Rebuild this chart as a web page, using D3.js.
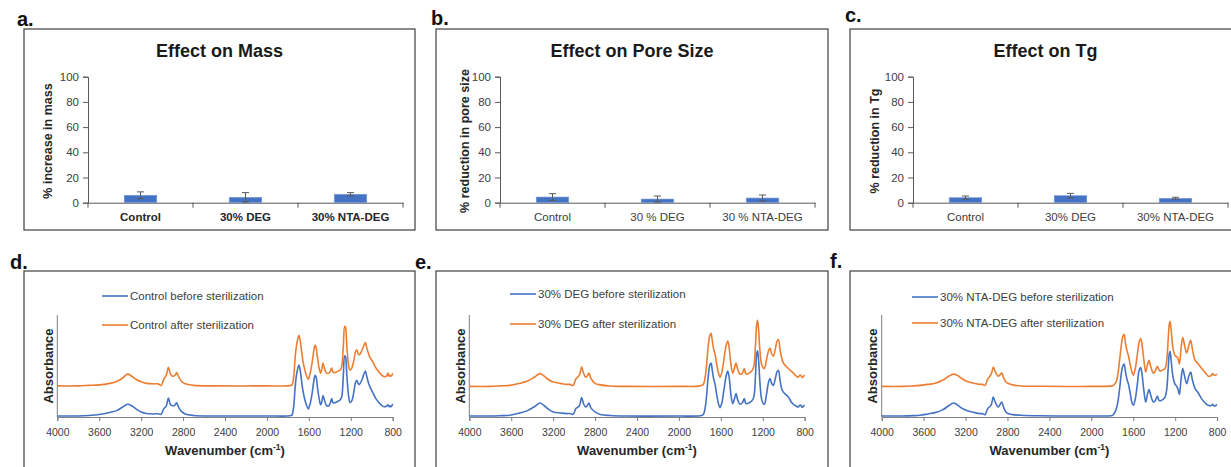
<!DOCTYPE html>
<html><head><meta charset="utf-8">
<script src="https://cdn.jsdelivr.net/npm/d3@7"></script>
<style>body{margin:0;background:#fff}svg{display:block}text{font-family:Arial,"Liberation Sans",sans-serif}</style>
</head><body><svg id="c" width="1231" height="467"></svg>
<script>
// ---------- data ----------
const panelLetters = ["a.","b.","c.","d.","e.","f."];
const barTitles = ["Effect on Mass","Effect on Pore Size","Effect on Tg"];
const barYLabels = ["% increase in mass","% reduction in pore size","% reduction in Tg"];
const massCats = ["Control","30% DEG","30% NTA-DEG"];
const poreCats = ["Control","30 % DEG","30 % NTA-DEG"];
const tgCats = ["Control","30% DEG","30% NTA-DEG"];
const massVals = [5.9, 4.3, 6.7];
const massErr = [2.7, 3.7, 1.3];
const poreVals = [4.5, 2.9, 3.7];
const poreErr = [2.7, 2.4, 2.4];
const tgVals = [4.0, 5.6, 3.5];
const tgErr = [1.3, 1.8, 0.8];
const barYTicks = [0, 20, 40, 60, 80, 100];
const wnTicks = [4000, 3600, 3200, 2800, 2400, 2000, 1600, 1200, 800];
const legendNames = [
  ["Control before sterilization", "Control after sterilization"],
  ["30% DEG before sterilization", "30% DEG after sterilization"],
  ["30% NTA-DEG before sterilization", "30% NTA-DEG after sterilization"]
];
// spectra: [wavenumber, absorbance (arb.)]
const ctrlBefore = [[4000,1],[3800,1],[3700,1.5],[3600,2.5],[3500,4.5],[3440,6],[3380,9.5],[3330,12.5],[3290,11],[3250,8],[3200,5],[3150,3.5],[3080,3],[3040,3.2],[3010,2.6],[2985,8],[2960,11],[2940,18.5],[2920,12],[2900,11],[2875,12],[2862,14],[2840,9],[2820,6],[2780,3],[2700,1.5],[2500,1],[2000,1],[1800,1],[1770,1.5],[1760,2],[1745,10],[1730,30],[1715,43],[1695,51],[1680,44],[1670,36],[1655,25],[1630,14],[1605,8],[1600,9],[1585,14],[1569,23],[1553,35],[1540,41],[1530,39],[1519,30],[1500,17],[1487,12],[1476,15],[1465,21],[1452,17],[1430,11],[1410,11],[1395,14],[1382,18],[1370,14],[1355,14],[1330,15],[1300,17],[1286,20],[1271,41],[1258,60],[1250,59],[1239,43],[1220,20],[1207,14],[1190,16],[1170,25],[1155,34],[1143,36],[1130,33],[1118,32],[1095,36],[1075,42],[1060,45],[1048,40],[1030,33],[1015,29],[990,24],[960,18],[930,14],[900,11],[880,10],[860,10.5],[845,12],[835,10],[825,11],[815,10],[800,13]];
const ctrlAfter = [[4000,30.5],[3800,30.5],[3700,31],[3600,31.5],[3500,33],[3440,34.5],[3380,38],[3330,42],[3290,40],[3250,37],[3200,34.5],[3150,33],[3080,32.5],[3040,32.5],[3010,31],[2985,37],[2960,41],[2940,48.7],[2920,42],[2900,40],[2875,41],[2862,43.5],[2840,39],[2820,35.5],[2780,32.5],[2700,31],[2500,30.5],[2000,30.5],[1800,30.5],[1770,31],[1760,31.5],[1745,39],[1730,59],[1715,72],[1695,80],[1680,73],[1670,65],[1655,54],[1630,43],[1605,37],[1600,38],[1585,44],[1569,53],[1553,65],[1540,70.5],[1530,68],[1519,59],[1500,47],[1487,43],[1476,47],[1465,53],[1452,48],[1430,43],[1410,43],[1395,45],[1382,48],[1370,44],[1355,43.5],[1330,44.5],[1300,46],[1286,50],[1271,70],[1258,89],[1250,88],[1239,72],[1220,50],[1207,46],[1190,48],[1170,56],[1155,64],[1143,66],[1130,62],[1118,61],[1095,65],[1075,70],[1060,73],[1048,68],[1030,62],[1015,58],[990,54],[960,48],[930,44],[900,40.5],[880,39.5],[860,40],[845,43],[835,40],[825,41],[815,40],[800,43]];
const degBefore = [[4000,1],[3800,1],[3700,1.3],[3612,1.7],[3516,4],[3450,6],[3380,10],[3326,13.7],[3290,11.5],[3250,8],[3198,5],[3130,4],[3071,3.3],[3040,3.4],[3008,2.6],[2985,8],[2950,11],[2928,19],[2910,13],[2890,9.8],[2870,12],[2858,13.7],[2840,9],[2801,5],[2750,2.5],[2657,1.5],[2500,1],[2000,1],[1800,1.2],[1767,2.5],[1750,9],[1735,22],[1720,40],[1705,51],[1694,53],[1682,46],[1668,37],[1656,32.7],[1640,22],[1620,12],[1608,9.2],[1590,14],[1570,27],[1550,40],[1535,45],[1522,40],[1505,23],[1487,13],[1470,18],[1455,23],[1440,17],[1417,12.5],[1395,14],[1376,18],[1365,14],[1353,13],[1330,14],[1305,15.7],[1285,20],[1270,40],[1258,62],[1250,65],[1240,56],[1228,35],[1212,18],[1195,13],[1185,12.5],[1165,22],[1145,34],[1131,37.6],[1115,33],[1099,31],[1080,38],[1065,44],[1051,45.8],[1035,36],[1020,28],[1004,24.5],[980,22],[956,19.6],[930,15],[908,12.5],[880,10.5],[861,9.8],[848,11.5],[838,11.5],[828,9.8],[819,9.8],[810,11],[800,11.5]];
const degAfter = [[4000,30],[3800,30],[3700,30.5],[3612,31],[3516,33],[3450,35],[3380,39],[3326,42.5],[3290,40.5],[3250,37],[3198,34.3],[3130,33],[3071,32],[3040,32],[3008,31],[2985,37],[2950,41],[2928,49],[2910,43],[2890,39],[2870,41],[2858,43],[2840,38],[2801,33],[2750,31.5],[2657,30.4],[2500,30],[2000,30],[1800,30.5],[1767,32],[1750,39],[1735,52],[1720,70],[1705,80],[1694,82],[1682,75],[1668,66],[1656,62],[1640,52],[1620,42],[1608,39],[1590,44],[1570,57],[1550,70],[1535,74.5],[1522,69],[1505,53],[1487,43],[1470,48],[1455,53],[1440,47],[1417,42],[1395,43],[1376,47.5],[1365,43],[1353,42],[1330,43],[1305,45],[1285,50],[1270,70],[1258,91],[1250,94.8],[1240,86],[1228,66],[1212,52],[1195,48],[1185,47.5],[1165,56],[1145,65],[1131,67.6],[1115,62],[1099,59.5],[1080,67],[1065,74],[1051,75.9],[1035,66],[1020,58],[1004,53],[980,50],[956,47.5],[930,45],[908,43],[880,40],[861,39],[848,41],[838,41],[828,39],[819,39],[810,40],[800,41]];
const ntaBefore = [[4000,1],[3800,1],[3700,1.3],[3635,1.7],[3560,3],[3491,4.3],[3420,7],[3360,11],[3317,13.7],[3280,12],[3240,9],[3189,6.3],[3120,4.5],[3062,3.3],[3040,3.3],[3014,2.3],[2990,8],[2955,12],[2935,19.6],[2915,14],[2887,9.8],[2870,12.5],[2855,14.7],[2835,9],[2807,4],[2750,2.3],[2670,1.7],[2500,1.2],[2000,1],[1800,1.5],[1790,2.3],[1765,7],[1748,14],[1730,28],[1712,44],[1700,50],[1688,52],[1675,45],[1660,37],[1647,32.7],[1630,24],[1612,14],[1599,11.5],[1580,18],[1560,33],[1545,45],[1529,48.4],[1515,41],[1500,27],[1481,14.7],[1465,22],[1449,26.9],[1435,22],[1408,14.7],[1390,16],[1370,20.6],[1358,17],[1344,15.7],[1320,17],[1297,19.6],[1282,26],[1268,45],[1256,62],[1249,64.4],[1238,55],[1222,40],[1205,33],[1192,31],[1175,28],[1160,22],[1145,36],[1128,47.5],[1110,40],[1090,32.7],[1070,40],[1052,44],[1035,36],[1010,27.8],[979,23.5],[955,19],[931,15.7],[905,13],[884,11.5],[860,11],[842,12.5],[830,11],[819,10.8],[810,11.5],[800,12]];
const ntaAfter = [[4000,30],[3800,30],[3700,30.5],[3635,31],[3560,32],[3491,33],[3420,36],[3360,40],[3317,42],[3280,41],[3240,38],[3189,35],[3120,33],[3062,32],[3040,32],[3014,31],[2990,37],[2955,42],[2935,49],[2915,44],[2887,40],[2870,41.5],[2855,43],[2835,38],[2807,33.7],[2750,31.5],[2670,30.4],[2500,30.2],[2000,30],[1800,30.5],[1790,31],[1765,34],[1748,41],[1730,56],[1712,72],[1700,79],[1688,81],[1675,73],[1660,65],[1647,60.5],[1630,52],[1612,44],[1599,41],[1580,48],[1560,62],[1545,73],[1529,76.9],[1515,70],[1500,57],[1481,44],[1465,51],[1449,55.6],[1435,50],[1408,43],[1390,45],[1370,49.7],[1358,47],[1344,45],[1320,46],[1297,47.5],[1282,54],[1268,74],[1256,91],[1249,93.8],[1238,85],[1222,68],[1205,61],[1192,59.5],[1175,58],[1160,52],[1145,66],[1128,77.8],[1110,70],[1090,62.7],[1070,70],[1052,75.2],[1035,66],[1010,55.6],[979,52],[955,48.5],[931,45.8],[905,42.5],[884,40],[860,40.5],[842,42.5],[830,41],[819,41],[810,41.5],[800,42]];

// ---------- drawing ----------
const svg = d3.select("#c");
const BLUE = "#4472C4", ORANGE = "#ED7D31", AX = "#7f7f7f", TXT = "#404040", BORDER = "#3f3f3f";
const FONT = "Arial, Liberation Sans, sans-serif";

const barSets = [
  {cats: massCats, vals: massVals, err: massErr, bold: true},
  {cats: poreCats, vals: poreVals, err: poreErr, bold: false},
  {cats: tgCats, vals: tgVals, err: tgErr, bold: false}
];
const boxL = [24, 436, 850], boxR = [415, 828, 1241];
const barAxisX = [88, 500, 913];
const yLabX = [48, 465, 875];
const letterTop = [[17, 26], [431, 25], [845, 22]];
const letterBot = [[10, 269], [415, 269], [830, 268]];

barSets.forEach((s, i) => {
  const g = svg.append("g");
  g.append("rect").attr("x", boxL[i]).attr("y", 29).attr("width", boxR[i] - boxL[i]).attr("height", 201)
    .attr("fill", "none").attr("stroke", BORDER).attr("stroke-width", 1.2);
  svg.append("text").attr("x", letterTop[i][0]).attr("y", letterTop[i][1]).text(panelLetters[i])
    .attr("font-size", 20).attr("font-weight", "bold").attr("fill", "#111");
  g.append("text").attr("x", (boxL[i] + boxR[i]) / 2).attr("y", 57).attr("text-anchor", "middle")
    .attr("font-size", 18).attr("font-weight", "bold").attr("fill", "#1a1a1a").text(barTitles[i]);
  const x0 = barAxisX[i];
  const y = d3.scaleLinear().domain([0, 100]).range([202.7, 76.7]);
  const x = d3.scaleBand().domain(s.cats).range([x0, x0 + 315]).paddingInner(0.69).paddingOuter(0.345);
  const ya = g.append("g").attr("transform", `translate(${x0},0)`)
    .call(d3.axisLeft(y).tickValues(barYTicks).tickSize(5).tickPadding(4));
  ya.select(".domain").attr("stroke", "#595959");
  ya.selectAll(".tick line").attr("stroke", "#595959");
  ya.selectAll("text").attr("font-size", 11.5).attr("fill", TXT).attr("font-family", FONT);
  const xa = g.append("g").attr("transform", `translate(0,${y(0)})`)
    .call(d3.axisBottom(x).tickSize(0).tickPadding(10));
  xa.select(".domain").attr("stroke", "#595959");
  xa.selectAll("text").attr("font-size", 11.5).attr("fill", s.bold ? "#262626" : TXT)
    .attr("font-weight", s.bold ? "bold" : "normal").attr("font-family", FONT);
  const bounds = [x0].concat(s.cats.map(c => x(c) - x.step() * x.paddingInner() / 2 + x.step()));
  g.selectAll(".bt").data(bounds).join("line").attr("x1", d => d).attr("x2", d => d)
    .attr("y1", y(0)).attr("y2", y(0) + 5).attr("stroke", "#595959");
  g.append("text").attr("transform", `translate(${yLabX[i]},141) rotate(-90)`).attr("text-anchor", "middle")
    .attr("dy", "0.35em").attr("font-size", 12.5).attr("font-weight", "bold").attr("fill", "#262626").text(barYLabels[i]);
  g.selectAll(".bar").data(s.cats).join("rect").attr("x", d => x(d)).attr("width", x.bandwidth())
    .attr("y", (d, j) => y(s.vals[j])).attr("height", (d, j) => y(0) - y(s.vals[j]))
    .attr("fill", BLUE).attr("stroke", "#7f9fd8").attr("stroke-width", 0.6);
  s.cats.forEach((c, j) => {
    const cx = x(c) + x.bandwidth() / 2;
    const lo = y(Math.max(0, s.vals[j] - s.err[j])), hi = y(s.vals[j] + s.err[j]);
    g.append("line").attr("x1", cx).attr("x2", cx).attr("y1", lo).attr("y2", hi).attr("stroke", "#595959").attr("stroke-width", 1);
    [lo, hi].forEach(v => g.append("line").attr("x1", cx - 3.5).attr("x2", cx + 3.5).attr("y1", v).attr("y2", v)
      .attr("stroke", "#595959").attr("stroke-width", 1));
  });
});

const specSets = [[ctrlBefore, ctrlAfter], [degBefore, degAfter], [ntaBefore, ntaAfter]];
const specX0 = [57.3, 469.3, 881.7];
const legX = [102, 510, 912], legY = [[296, 325], [294, 324], [297, 323]];
specSets.forEach((pair, i) => {
  const g = svg.append("g");
  g.append("rect").attr("x", boxL[i]).attr("y", 271).attr("width", boxR[i] - boxL[i]).attr("height", 220)
    .attr("fill", "none").attr("stroke", BORDER).attr("stroke-width", 1.2);
  svg.append("text").attr("x", letterBot[i][0]).attr("y", letterBot[i][1]).text(panelLetters[i + 3])
    .attr("font-size", 20).attr("font-weight", "bold").attr("fill", "#111");
  const x0 = specX0[i];
  const x = d3.scaleLinear().domain([4000, 800]).range([x0, x0 + 335.4]);
  const y = d3.scaleLinear().domain([0, 100]).range([417, 315]);
  const xa = g.append("g").attr("transform", `translate(0,417)`)
    .call(d3.axisBottom(x).tickValues(wnTicks).tickSize(4).tickPadding(8).tickFormat(d3.format("d")));
  xa.select(".domain").attr("stroke", AX);
  xa.selectAll(".tick line").attr("stroke", AX);
  xa.selectAll("text").attr("font-size", 10.5).attr("fill", TXT).attr("font-family", FONT);
  g.append("line").attr("x1", x0).attr("x2", x0).attr("y1", y(100)).attr("y2", y(0)).attr("stroke", AX);
  const line = d3.line().x(d => x(d[0])).y(d => y(d[1])).curve(d3.curveCatmullRom.alpha(0.5));
  g.append("path").datum(pair[1]).attr("d", line).attr("fill", "none").attr("stroke", ORANGE).attr("stroke-width", 1.6).attr("stroke-linejoin", "round");
  g.append("path").datum(pair[0]).attr("d", line).attr("fill", "none").attr("stroke", BLUE).attr("stroke-width", 1.6).attr("stroke-linejoin", "round");
  [BLUE, ORANGE].forEach((col, k) => {
    g.append("line").attr("x1", legX[i]).attr("x2", legX[i] + 26).attr("y1", legY[i][k]).attr("y2", legY[i][k])
      .attr("stroke", col).attr("stroke-width", 1.6);
    g.append("text").attr("x", legX[i] + 28).attr("y", legY[i][k]).attr("dy", "0.35em").attr("font-size", 11.5)
      .attr("fill", TXT).text(legendNames[i][k]);
  });
  g.append("text").attr("transform", `translate(${x0 - 9},366) rotate(-90)`).attr("text-anchor", "middle")
    .attr("dy", "0.35em").attr("font-size", 13).attr("font-weight", "bold").attr("fill", "#262626").text("Absorbance");
  const t = g.append("text").attr("x", x0 + 167.7).attr("y", 455).attr("text-anchor", "middle")
    .attr("font-size", 13).attr("font-weight", "bold").attr("fill", "#262626");
  t.append("tspan").text("Wavenumber (cm");
  t.append("tspan").attr("dy", -5).attr("font-size", 8.5).text("-1");
  t.append("tspan").attr("dy", 5).text(")");
});
</script></body></html>
